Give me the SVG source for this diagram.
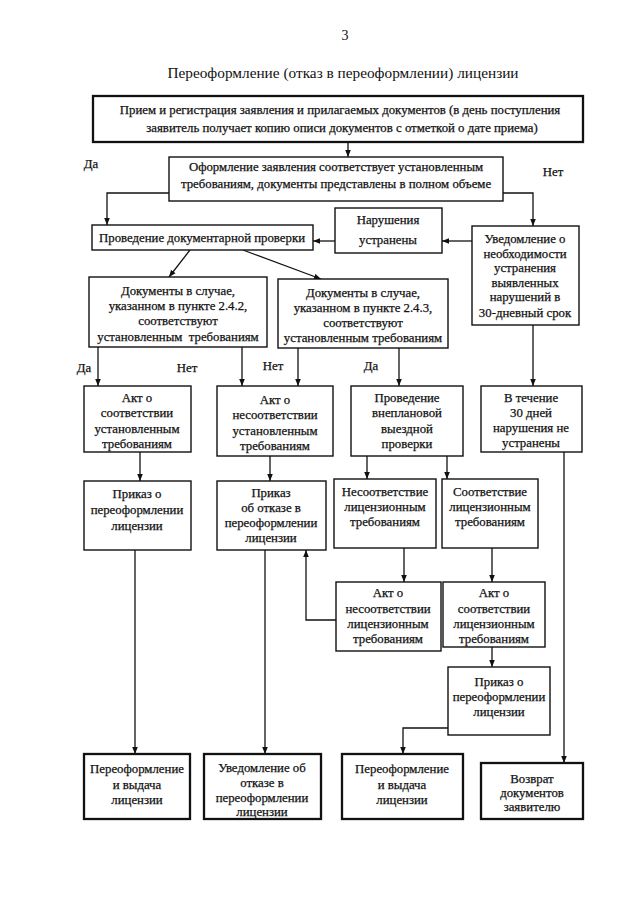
<svg xmlns="http://www.w3.org/2000/svg" width="640" height="905" viewBox="0 0 640 905">
<defs>
<marker id="ah" viewBox="0 0 10 10" refX="10" refY="5" markerWidth="7" markerHeight="7" orient="auto" markerUnits="userSpaceOnUse"><path d="M0,1 L10,5 L0,9 z" fill="#111"/></marker>
<style>
.box{fill:#fff;stroke:#111;stroke-width:1.4}
.thick{stroke-width:2.3}
.t{font-family:"Liberation Serif","Times New Roman",serif;font-size:12.8px;text-anchor:middle;fill:#111;stroke:#111;stroke-width:0.25}
.c{fill:none;stroke:#111;stroke-width:1.3;marker-end:url(#ah)}
</style>
</defs>
<rect width="640" height="905" fill="#fff"/>
<text class="t" x="345" y="40" style="font-size:14px;stroke-width:0">3</text>
<text class="t" x="343" y="78" style="font-size:15.3px;stroke-width:0">Переоформление (отказ в переоформлении) лицензии</text>

<g id="connectors">
<path class="c" d="M348,142 V157"/>
<path class="c" d="M169,193 H107 V225"/>
<path class="c" d="M503,193 H533 V226"/>
<path class="c" d="M472,241 H442"/>
<path class="c" d="M335,241 H313"/>
<path class="c" d="M190,250 L169,277"/>
<path class="c" d="M243,250 L321,279"/>
<path class="c" d="M98,347 V386"/>
<path class="c" d="M242,347 V386"/>
<path class="c" d="M298,348 V386"/>
<path class="c" d="M399,348 V386"/>
<path class="c" d="M533,325 V386"/>
<path class="c" d="M140,452 V481"/>
<path class="c" d="M270,456 V481"/>
<path class="c" d="M367,456 V479"/>
<path class="c" d="M447,456 V479"/>
<path class="c" d="M404,548 V582"/>
<path class="c" d="M492,548 V582"/>
<path class="c" d="M336,620 H306 V550"/>
<path class="c" d="M492,647 V667"/>
<path class="c" d="M448,728 H403 V754"/>
<path class="c" d="M135,550 V754"/>
<path class="c" d="M265,550 V754"/>
<path class="c" d="M564,452 V763"/>
</g>

<text class="t" x="91" y="168">Да</text>
<text class="t" x="553" y="176">Нет</text>
<text class="t" x="84" y="372">Да</text>
<text class="t" x="187" y="372">Нет</text>
<text class="t" x="273" y="370">Нет</text>
<text class="t" x="371" y="370">Да</text>

<g id="n1"><rect class="box thick" x="93" y="96" width="490" height="46"/>
<text class="t" x="340" y="114">Прием и регистрация заявления и прилагаемых документов (в день поступления</text>
<text class="t" x="342" y="132">заявитель получает копию описи документов с отметкой о дате приема)</text></g>

<g id="n2"><rect class="box" x="169" y="157" width="334" height="44"/>
<text class="t" x="336" y="171">Оформление заявления соответствует установленным</text>
<text class="t" x="336" y="188">требованиям, документы представлены в полном объеме</text></g>

<g id="n3"><rect class="box" x="92" y="225" width="221" height="25"/>
<text class="t" x="202" y="242">Проведение документарной проверки</text></g>

<g id="n4"><rect class="box" x="335" y="208" width="107" height="45"/>
<text class="t" x="388" y="224">Нарушения</text>
<text class="t" x="388" y="244">устранены</text></g>

<g id="n5"><rect class="box" x="472" y="226" width="107" height="99"/>
<text class="t" x="525" y="243">Уведомление о</text>
<text class="t" x="525" y="258">необходимости</text>
<text class="t" x="525" y="272">устранения</text>
<text class="t" x="525" y="287">выявленных</text>
<text class="t" x="525" y="301">нарушений в</text>
<text class="t" x="525" y="317">30-дневный срок</text></g>

<g id="n6"><rect class="box" x="89" y="277" width="178" height="70"/>
<text class="t" x="178" y="295">Документы в случае,</text>
<text class="t" x="178" y="310">указанном в пункте 2.4.2,</text>
<text class="t" x="178" y="325">соответствуют</text>
<text class="t" x="178" y="341" xml:space="preserve">установленным  требованиям</text></g>

<g id="n7"><rect class="box" x="278" y="279" width="170" height="69"/>
<text class="t" x="363" y="297">Документы в случае,</text>
<text class="t" x="363" y="312">указанном в пункте 2.4.3,</text>
<text class="t" x="363" y="327">соответствуют</text>
<text class="t" x="363" y="342">установленным требованиям</text></g>

<g id="n8"><rect class="box" x="84" y="386" width="107" height="66"/>
<text class="t" x="137" y="402">Акт о</text>
<text class="t" x="137" y="417">соответствии</text>
<text class="t" x="137" y="433">установленным</text>
<text class="t" x="137" y="448">требованиям</text></g>

<g id="n9"><rect class="box" x="217" y="386" width="116" height="70"/>
<text class="t" x="275" y="404">Акт о</text>
<text class="t" x="275" y="419">несоответствии</text>
<text class="t" x="275" y="435">установленным</text>
<text class="t" x="275" y="450">требованиям</text></g>

<g id="n10"><rect class="box" x="351" y="386" width="112" height="70"/>
<text class="t" x="407" y="402">Проведение</text>
<text class="t" x="407" y="417">внеплановой</text>
<text class="t" x="407" y="433">выездной</text>
<text class="t" x="407" y="448">проверки</text></g>

<g id="n11"><rect class="box" x="481" y="386" width="101" height="66"/>
<text class="t" x="531" y="402">В течение</text>
<text class="t" x="531" y="417">30 дней</text>
<text class="t" x="531" y="432">нарушения не</text>
<text class="t" x="531" y="447">устранены</text></g>

<g id="n12"><rect class="box" x="84" y="481" width="107" height="69"/>
<text class="t" x="137" y="498">Приказ о</text>
<text class="t" x="137" y="514">переоформлении</text>
<text class="t" x="137" y="530">лицензии</text></g>

<g id="n13"><rect class="box" x="217" y="481" width="109" height="69"/>
<text class="t" x="271" y="497">Приказ</text>
<text class="t" x="271" y="512">об отказе в</text>
<text class="t" x="271" y="527">переоформлении</text>
<text class="t" x="271" y="542">лицензии</text></g>

<g id="n14"><rect class="box" x="334" y="479" width="102" height="69"/>
<text class="t" x="385" y="496">Несоответствие</text>
<text class="t" x="385" y="511">лицензионным</text>
<text class="t" x="385" y="526">требованиям</text></g>

<g id="n15"><rect class="box" x="442" y="479" width="96" height="69"/>
<text class="t" x="490" y="496">Соответствие</text>
<text class="t" x="490" y="511">лицензионным</text>
<text class="t" x="490" y="526">требованиям</text></g>

<g id="n16"><rect class="box" x="336" y="582" width="105" height="69"/>
<text class="t" x="388" y="597">Акт о</text>
<text class="t" x="388" y="613">несоответствии</text>
<text class="t" x="388" y="628">лицензионным</text>
<text class="t" x="388" y="643">требованиям</text></g>

<g id="n17"><rect class="box" x="443" y="582" width="102" height="65"/>
<text class="t" x="494" y="597">Акт о</text>
<text class="t" x="494" y="613">соответствии</text>
<text class="t" x="494" y="628">лицензионным</text>
<text class="t" x="494" y="643">требованиям</text></g>

<g id="n18"><rect class="box" x="448" y="667" width="102" height="68"/>
<text class="t" x="499" y="686">Приказ о</text>
<text class="t" x="499" y="701">переоформлении</text>
<text class="t" x="499" y="716">лицензии</text></g>

<g id="n19"><rect class="box thick" x="84" y="754" width="106" height="65"/>
<text class="t" x="137" y="773">Переоформление</text>
<text class="t" x="137" y="789">и выдача</text>
<text class="t" x="137" y="804">лицензии</text></g>

<g id="n20"><rect class="box thick" x="204" y="754" width="117" height="65"/>
<text class="t" x="262" y="772">Уведомление об</text>
<text class="t" x="262" y="787">отказе в</text>
<text class="t" x="262" y="802">переоформлении</text>
<text class="t" x="262" y="816">лицензии</text></g>

<g id="n21"><rect class="box thick" x="342" y="754" width="121" height="65"/>
<text class="t" x="402" y="773">Переоформление</text>
<text class="t" x="402" y="789">и выдача</text>
<text class="t" x="402" y="804">лицензии</text></g>

<g id="n22"><rect class="box thick" x="481" y="763" width="102" height="56"/>
<text class="t" x="532" y="783">Возврат</text>
<text class="t" x="532" y="797">документов</text>
<text class="t" x="532" y="811">заявителю</text></g>
</svg>
